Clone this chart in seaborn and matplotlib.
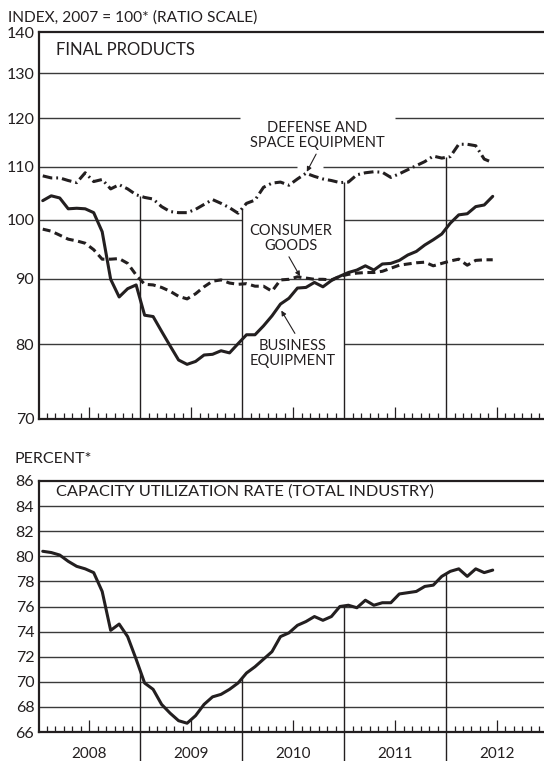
import numpy as np
import pandas as pd
import matplotlib
matplotlib.use("Agg")
import matplotlib.pyplot as plt
from matplotlib.ticker import FixedLocator, FuncFormatter, NullLocator
import seaborn as sns

# ---------------- data (monthly, Jan 2008 - Jun 2012) ----------------
month_index = list(range(54))  # 0 = Jan 2008
business = [103.5, 104.4, 104.0, 102.0, 102.1, 102.0, 101.3, 97.9, 89.9, 87.1,
            88.4, 89.0, 84.3, 84.1, 81.9, 79.8, 77.8, 77.2, 77.6, 78.5,
            78.6, 79.1, 78.8, 80.1, 81.4, 81.4, 82.7, 84.2, 86.0, 86.9,
            88.5, 88.6, 89.4, 88.7, 89.7, 90.4, 91.0, 91.4, 92.1, 91.4,
            92.4, 92.5, 93.0, 93.9, 94.5, 95.6, 96.5, 97.5, 99.4, 100.9,
            101.1, 102.4, 102.7, 104.3]
consumer = [98.35, 98.0, 97.3, 96.6, 96.3, 95.9, 94.8, 93.2, 93.2, 93.3,
            92.5, 90.6, 89.1, 89.0, 88.6, 88.0, 87.2, 86.8, 87.6, 88.7,
            89.6, 89.8, 89.3, 89.1, 89.2, 88.8, 88.8, 88.0, 89.8, 89.9,
            90.3, 90.1, 89.9, 89.9, 89.8, 90.4, 90.7, 90.9, 91.0, 91.0,
            91.2, 91.7, 92.2, 92.4, 92.6, 92.7, 92.1, 92.5, 92.9, 93.2,
            92.2, 93.0, 93.1, 93.1]
defense = [108.2, 107.8, 107.8, 107.3, 106.9, 108.8, 107.1, 107.5, 105.7, 106.5,
           105.7, 104.6, 104.1, 103.8, 102.4, 101.5, 101.3, 101.3, 101.9, 102.8,
           103.7, 103.0, 102.2, 101.2, 103.0, 103.6, 106.0, 106.8, 107.0, 106.4,
           107.6, 108.7, 108.1, 107.6, 107.3, 106.9, 107.0, 108.4, 108.8, 109.0,
           108.9, 107.9, 108.6, 109.4, 110.2, 111.0, 112.1, 111.7, 112.0, 114.5,
           114.5, 114.2, 111.5, 110.8]
capacity = [80.4, 80.3, 80.1, 79.6, 79.2, 79.0, 78.7, 77.2, 74.1, 74.6,
            73.6, 71.8, 69.9, 69.4, 68.2, 67.5, 66.9, 66.7, 67.3, 68.2,
            68.8, 69.0, 69.4, 69.9, 70.7, 71.2, 71.8, 72.4, 73.6, 73.9,
            74.5, 74.8, 75.2, 74.9, 75.2, 76.0, 76.1, 75.9, 76.5, 76.1,
            76.3, 76.3, 77.0, 77.1, 77.2, 77.6, 77.7, 78.4, 78.8, 79.0,
            78.4, 79.0, 78.7, 78.9]
years = ["2008", "2009", "2010", "2011", "2012"]
top_ticks = [70, 80, 90, 100, 110, 120, 130, 140]
bottom_ticks = [66, 68, 70, 72, 74, 76, 78, 80, 82, 84, 86]

# ---------------- style ----------------
sns.set_theme(style="white")
plt.rcParams["font.family"] = ["Lato", "DejaVu Sans"]
INK = "#231f20"
GRID = "#3a3a3a"

x = np.array(month_index) + 0.5          # mid-month position
XMAX = (544 - 38.5) / 8.49               # months visible to the right edge
year_bounds = [12 * (k + 1) for k in range(len(years) - 1)]
year_mid = [12 * k + 6 for k in range(len(years))]

fig = plt.figure(figsize=(5.44, 7.61), dpi=100)
ax1 = fig.add_axes([38.5 / 544, 1 - 419 / 761, 1 - 38.5 / 544, (419 - 32) / 761])
ax2 = fig.add_axes([38.5 / 544, 1 - 732 / 761, 1 - 38.5 / 544, (732 - 481) / 761])

# ---------------- top panel ----------------
df_top = pd.DataFrame({
    "month": np.concatenate([x, x, x]),
    "value": business + consumer + defense,
    "series": ["Business"] * len(x) + ["Consumer"] * len(x) + ["Defense"] * len(x),
})
sns.lineplot(data=df_top, x="month", y="value", hue="series", style="series",
             palette={"Business": INK, "Consumer": INK, "Defense": INK},
             dashes={"Business": "", "Consumer": (2.6, 1.5), "Defense": (3.2, 1.3, 0.6, 1.3)},
             linewidth=2.2, legend=False, ax=ax1, zorder=3)
ax1.set_yscale("log")
ax1.set_ylim(70, 140)
ax1.set_xlim(0, XMAX)

gaps = {120: [(23.7, 42.0)], 110: [(30.4, 33.5)], 100: [(24, 36)], 80: [(24, 36)]}

def draw_grid(ax, values, gap_map):
    for v in values:
        start = 0
        for g0, g1 in gap_map.get(v, []):
            ax.hlines(v, start, g0, color=GRID, lw=1.0, zorder=1)
            start = g1
        ax.hlines(v, start, XMAX, color=GRID, lw=1.0, zorder=1)

draw_grid(ax1, top_ticks[1:-1], gaps)

for b in year_bounds:
    top = np.interp(b, x, defense)
    ax1.vlines(b, 70, top, color=INK, lw=1.0, zorder=2)

# ---------------- bottom panel ----------------
df_bot = pd.DataFrame({"month": x, "value": capacity})
sns.lineplot(data=df_bot, x="month", y="value", color=INK, linewidth=2.2, ax=ax2, zorder=3)
ax2.set_ylim(66, 86)
ax2.set_xlim(0, XMAX)
draw_grid(ax2, bottom_ticks[1:-1], {})
for b in year_bounds:
    top = np.interp(b, x, capacity)
    ax2.vlines(b, 63.6, top, color=INK, lw=1.0, zorder=2, clip_on=False)

# ---------------- axes cosmetics ----------------
minor = [m for m in range(1, int(XMAX) + 1) if m % 12 != 0 and m % 12 != 6]
for ax, ticks in ((ax1, top_ticks), (ax2, bottom_ticks)):
    ax.set_xlabel("")
    ax.set_ylabel("")
    ax.yaxis.set_major_locator(FixedLocator(ticks))
    ax.yaxis.set_minor_locator(NullLocator())
    ax.yaxis.set_major_formatter(FuncFormatter(lambda v, p: f"{v:g}"))
    ax.xaxis.set_major_locator(FixedLocator(year_mid))
    ax.xaxis.set_minor_locator(FixedLocator(minor))
    ax.tick_params(axis="y", which="both", length=0, pad=3, labelsize=11.5, labelcolor=INK)
    ax.tick_params(axis="x", which="major", direction="in", length=8.5, width=0.9,
                   color=INK, bottom=True, top=False)
    ax.tick_params(axis="x", which="minor", direction="in", length=4.5, width=0.9,
                   color=INK, bottom=True, top=False)
    ax.spines["right"].set_visible(False)
    for s in ("left", "top", "bottom"):
        ax.spines[s].set_color(INK)
        ax.spines[s].set_linewidth(1.6)
    ax.set_facecolor("white")

ax1.tick_params(axis="x", labelbottom=False)
ax2.set_xticklabels(years)
ax2.tick_params(axis="x", which="major", labelsize=11, labelcolor=INK, pad=11)

# ---------------- texts ----------------
fig.text(8 / 544, 1 - 18 / 761, "INDEX, 2007 = 100* (RATIO SCALE)", fontsize=11.2,
         color=INK, va="center", ha="left")
fig.text(15 / 544, 1 - 459 / 761, "PERCENT*", fontsize=11.5, color=INK, va="center", ha="left")
ax1.text(0.0346, 0.953, "FINAL PRODUCTS", transform=ax1.transAxes, fontsize=12,
         color=INK, va="center", ha="left")
ax2.text(0.0346, 0.956, "CAPACITY UTILIZATION RATE (TOTAL INDUSTRY)", transform=ax2.transAxes,
         fontsize=11.8, color=INK, va="center", ha="left")

ax1.text(32.8, 116.3, "DEFENSE AND\nSPACE EQUIPMENT", fontsize=10.5, color=INK,
         ha="center", va="center", linespacing=1.1)
ax1.text(29.7, 96.7, "CONSUMER\nGOODS", fontsize=10.5, color=INK,
         ha="center", va="center", linespacing=1.1)
ax1.text(29.9, 78.7, "BUSINESS\nEQUIPMENT", fontsize=10.5, color=INK,
         ha="center", va="center", linespacing=1.1)

arrow = dict(arrowstyle="-|>", color=INK, lw=0.8, mutation_scale=7, shrinkA=0, shrinkB=0)
ax1.annotate("", xy=(31.6, 109.0), xytext=(32.7, 112.5), arrowprops=arrow)
ax1.annotate("", xy=(30.8, 90.4), xytext=(29.5, 93.6), arrowprops=arrow)
ax1.annotate("", xy=(28.6, 85.0), xytext=(30.2, 81.6), arrowprops=arrow)

fig.savefig("out.png", dpi=100, facecolor="white")
